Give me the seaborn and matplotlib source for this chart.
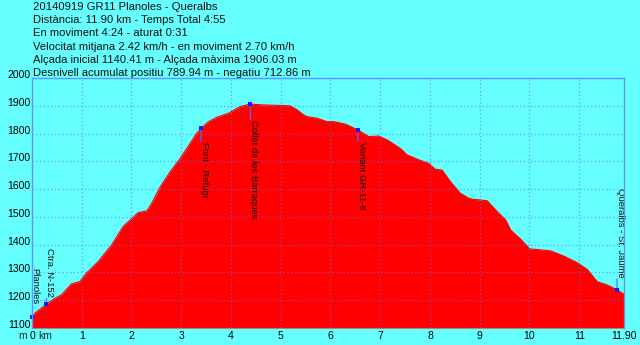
import matplotlib
matplotlib.use("Agg")
import matplotlib.pyplot as plt
import seaborn as sns
import pandas as pd

# Elevation profile: distance along the route (km) and altitude (m)
distance_km = [0.00, 0.07, 0.29, 0.46, 0.59, 0.79, 0.96, 1.09, 1.33, 1.60,
               1.83, 2.04, 2.13, 2.31, 2.41, 2.58, 2.78, 2.98, 3.18, 3.31,
               3.40, 3.55, 3.72, 3.95, 4.18, 4.39, 4.65, 5.19, 5.33, 5.46,
               5.53, 5.73, 5.93, 6.06, 6.30, 6.55, 6.77, 6.97, 7.14, 7.40,
               7.54, 7.81, 7.97, 8.11, 8.24, 8.41, 8.61, 8.78, 8.88, 9.01,
               9.15, 9.35, 9.52, 9.62, 9.82, 10.00, 10.42, 10.69, 10.96, 11.16,
               11.36, 11.56, 11.76, 11.90]
elevation_m = [1140, 1155, 1186, 1207, 1219, 1258, 1267, 1297, 1339, 1399,
               1465, 1500, 1515, 1522, 1550, 1609, 1663, 1711, 1765, 1801,
               1819, 1843, 1859, 1873, 1897, 1906, 1903, 1900, 1885, 1867,
               1861, 1855, 1843, 1843, 1834, 1813, 1789, 1791, 1777, 1747,
               1723, 1703, 1693, 1671, 1669, 1627, 1585, 1567, 1563, 1561,
               1558, 1519, 1489, 1453, 1420, 1385, 1378, 1359, 1335, 1311,
               1267, 1255, 1237, 1222]

# Waypoints along the route
wp_names = ["Planoles", "Ctra. N-152", "Font - Refugi",
            "Collet de les Barraques", "Variant GR-11-8", "Queralbs - St. Jaume"]
wp_km = [0.00, 0.29, 3.40, 4.39, 6.55, 11.76]
wp_elev = [1140, 1186, 1819, 1906, 1813, 1237]
# label placement: +1 above the point, -1 below
wp_side = [1, 1, -1, -1, -1, 1]
wp_gap_px = [13, 7, 14, 16, 12, 12]
wp_line = [False, True, True, True, True, True]

# Axis ticks
x_ticks = [0, 1, 2, 3, 4, 5, 6, 7, 8, 9, 10, 11, 11.90]
x_ticklabels = ["0", "1", "2", "3", "4", "5", "6", "7", "8", "9", "10", "11", "11.90"]
y_ticks = [1100, 1200, 1300, 1400, 1500, 1600, 1700, 1800, 1900, 2000]

header_lines = [
    "20140919 GR11 Planoles - Queralbs",
    "Distància: 11.90 km - Temps Total 4:55",
    "En moviment 4:24 - aturat 0:31",
    "Velocitat mitjana 2.42 km/h - en moviment 2.70 km/h",
    "Alçada inicial 1140.41 m - Alçada màxima 1906.03 m",
    "Desnivell acumulat positiu 789.94 m - negatiu 712.86 m",
]

BG = "#66ffff"
FILL = "#ff0000"
GRID = "#5a6cff"
FRAME = "#5f95ff"

sns.set_style("white")
plt.rcParams["font.family"] = ["Liberation Sans", "DejaVu Sans"]

profile = pd.DataFrame({"km": distance_km, "m": elevation_m})
waypoints = pd.DataFrame({"km": wp_km, "m": wp_elev, "name": wp_names})

W, H = 640, 345
fig = plt.figure(figsize=(W / 100, H / 100), dpi=100, facecolor=BG)
x0, x1, y0, y1 = 32, 624, 78, 328
ax = fig.add_axes([x0 / W, 1 - y1 / H, (x1 - x0) / W, (y1 - y0) / H])
ax.set_facecolor(BG)

ax.fill_between(profile["km"], profile["m"], 1100, color=FILL, lw=0, zorder=1)
sns.lineplot(data=profile, x="km", y="m", ax=ax, color=FILL, lw=0.8,
             estimator=None, sort=False, zorder=2)

ax.set_xlim(0, 11.90)
ax.set_ylim(1100, 2000)

# dotted grid drawn over the filled area
for xv in range(1, 12):
    ax.axvline(xv, color=GRID, lw=0.9, ls=(0, (1, 2)), alpha=0.65, zorder=3)
for yv in y_ticks[1:-1]:
    ax.axhline(yv, color=GRID, lw=0.9, ls=(0, (1, 2)), alpha=0.65, zorder=3)

# waypoint markers, connector lines and labels
px = 72 / 100  # points per pixel
for name, xk, ym, side, gap, ln in zip(wp_names, wp_km, wp_elev, wp_side,
                                       wp_gap_px, wp_line):
    if ln:
        ax.annotate("", xy=(xk, ym), xytext=(0, side * (gap - 1) * px),
                    textcoords="offset points",
                    arrowprops=dict(arrowstyle="-", color=GRID, lw=1.0,
                                    alpha=0.85, shrinkA=0, shrinkB=0),
                    zorder=4)
    ax.annotate(name, xy=(xk, ym), xytext=(3.2 * px, side * gap * px),
                textcoords="offset points", rotation=-90,
                ha="center", va="bottom" if side > 0 else "top",
                fontsize=6.8, color="#111111", zorder=5, annotation_clip=False)

sns.scatterplot(data=waypoints, x="km", y="m", ax=ax, color="#1a1aff",
                marker="s", s=6, linewidth=0, zorder=6, clip_on=False)

ax.set_xticks(x_ticks)
ax.set_xticklabels(x_ticklabels)
ax.set_yticks(y_ticks)
ax.set_yticklabels([str(v) for v in y_ticks])
ax.tick_params(axis="both", length=0, labelsize=7.5, colors="black")
ax.tick_params(axis="x", pad=2)
ax.tick_params(axis="y", pad=1.2)
for lbl in ax.get_yticklabels():
    lbl.set_verticalalignment("baseline")
ax.set_xlabel("")
ax.set_ylabel("")

# unit labels around the origin tick
ax.annotate("m", xy=(0, 0), xycoords="axes fraction", xytext=(-3.5, -2),
            textcoords="offset points", ha="right", va="top", fontsize=7.5)
ax.annotate("km", xy=(0, 0), xycoords="axes fraction", xytext=(4.2, -2),
            textcoords="offset points", ha="left", va="top", fontsize=7.5)

for side_name, sp in ax.spines.items():
    sp.set_color(FRAME)
    sp.set_linewidth(1.0)
    sp.set_zorder(7)
ax.spines["bottom"].set_visible(False)

# route summary header
for i, line in enumerate(header_lines):
    yb = 10 + i * 13.2
    fig.text(33 / W, 1 - yb / H, line, ha="left", va="baseline",
             fontsize=8.1, color="#111111")

fig.savefig("out.png", dpi=100, facecolor=BG)
